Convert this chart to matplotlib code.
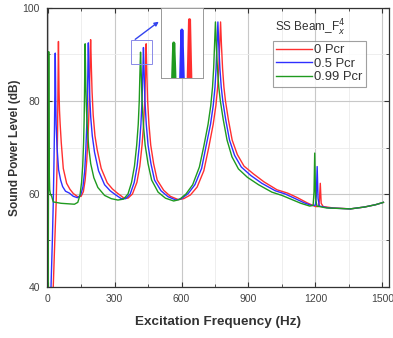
import matplotlib
matplotlib.use("Agg")
import matplotlib.pyplot as plt
from matplotlib.patches import Rectangle, FancyArrowPatch
from matplotlib.ticker import MultipleLocator

plt.rcParams['font.family'] = ['Liberation Sans', 'DejaVu Sans']

labels = ["0 Pcr", "0.5 Pcr", "0.99 Pcr"]
colors = ["#ff2f2f", "#2f2fff", "#1f9a1f"]

f_red = [20, 25, 32, 38, 42, 44.5, 46, 47.2, 48.3, 49.5, 51, 53, 56, 61, 70, 85, 100, 115, 135, 150,
         160, 168, 175, 180, 184, 187, 189.5, 191, 192.5, 194, 196, 199, 204, 212, 222, 240, 267, 290, 312, 340, 360,
         380, 400, 413, 423, 430, 435, 438, 440, 441.5, 443, 445, 448, 454, 462, 475, 491, 520, 550, 585, 610,
         640, 670, 700, 722, 742, 754, 762, 767, 771, 775, 779, 784, 790, 797, 810, 827, 850, 880, 923, 970, 1028,
         1075, 1120, 1163, 1200, 1213, 1218, 1222, 1226, 1235, 1280, 1357, 1420, 1470, 1505]
L_red = [28, 40, 50, 58, 66, 74, 82, 88, 92.8, 88, 82, 78, 75, 71, 65.5, 62.3, 61, 60.1, 59.4, 59.5,
         60.5, 63, 67, 71.5, 76, 81, 87, 91, 93.2, 91, 87, 82, 77, 72.5, 69.5, 65.5, 62.4, 61.1, 60.2, 59.2, 59.1,
         60, 62.5, 66, 70.5, 75, 80, 85, 89, 92.3, 89, 85, 80, 75, 70.5, 66.5, 63, 60.8, 59.5, 58.8, 59,
         59.8, 61.5, 65, 70, 75, 79, 83, 87, 92, 97, 92, 87, 83, 80, 76, 71.6, 68.5, 66, 64.3, 62.6, 60.9,
         60.2, 59.2, 58.1, 57.3, 57.3, 58.5, 62.3, 58, 57.3, 57, 56.8, 57.2, 57.7, 58.2]

f_blue = [10, 15, 21, 25, 28, 30.5, 32, 33, 34, 35, 36.3, 38, 42, 49, 58, 67, 80, 97, 115, 134,
          148, 158, 166, 171, 175, 178, 180, 181, 182.3, 183.6, 185.5, 188.5, 193, 200, 210, 228, 255, 280, 305, 330,
          350, 370, 388, 401, 411, 418, 423, 426, 428, 429.3, 430.8, 433, 436, 442, 450, 463, 479, 508, 540, 575, 600,
          630, 660, 690, 710, 730, 742, 750, 755, 759, 763, 767, 772, 778, 785, 798, 815, 838, 868, 910, 960, 1020,
          1065, 1110, 1150, 1185, 1200, 1204, 1208, 1212, 1218, 1260, 1357, 1420, 1470, 1505]
L_blue = [28, 40, 50, 58, 66, 74, 81, 86, 90.3, 86, 80, 75, 70, 65.2, 63, 61.6, 60.6, 60.2, 59.5, 59.2,
          59.8, 61.5, 65, 69.5, 74.5, 80, 86, 90, 92.5, 90, 86, 81, 76.5, 72.5, 69, 65, 62, 60.7, 59.8, 59,
          59, 60, 62.5, 66, 70.5, 75, 80, 85, 89, 91.5, 89, 85, 80, 75, 70.5, 66.5, 63, 60.7, 59.4, 58.7, 59,
          60.1, 62, 65.5, 70.3, 75, 79, 83, 87, 92, 97, 92, 87, 83, 80, 76, 71.6, 68.3, 65.8, 64, 62.3, 60.7,
          60, 59, 58.1, 57.5, 57.6, 59.5, 65.9, 59, 57.4, 57, 56.8, 57.2, 57.7, 58.2]

f_green = [1, 2.5, 3.5, 4.2, 4.7, 5.4, 6.3, 7.5, 9, 12, 18, 25, 60, 120, 135,
           145, 152, 157, 161, 163.5, 165.3, 166.6, 168, 169.4, 171, 174, 178, 184, 193, 207, 225, 255, 285, 315, 340,
           360, 376, 389, 399, 406, 410.5, 413, 415, 416.3, 417.8, 420, 423, 429, 437, 450, 466, 495, 528, 565, 590,
           620, 650, 680, 700, 719, 731, 739, 744, 748, 752, 756, 761, 767, 774, 787, 804, 826, 855, 895, 945, 1005,
           1050, 1095, 1135, 1175, 1190, 1194, 1197, 1201, 1207, 1250, 1357, 1420, 1470, 1505]
L_green = [30, 40, 62, 80, 90.6, 80, 70, 64, 61, 60, 59.5, 58.3, 58, 57.8, 58.2,
           59.8, 62.5, 66, 71, 76, 82, 88, 92.3, 88, 83, 78, 74, 70, 66.5, 63.5, 61.4, 59.7, 59, 58.7, 58.9,
           60, 62.5, 66, 70.5, 75, 80, 85, 88.5, 90.5, 88.5, 85, 80, 75, 70.5, 66.5, 63, 60.4, 59.1, 58.5, 58.8,
           60, 62, 65.8, 70.3, 75, 79, 83, 87, 92, 97, 92, 87, 83, 80, 76, 71.6, 68, 65.4, 63.6, 62, 60.4,
           59.7, 58.8, 58, 57.4, 57.6, 60.5, 68.8, 59, 57.4, 57, 56.8, 57.2, 57.7, 58.2]

series_f = [f_red, f_blue, f_green]
series_L = [L_red, L_blue, L_green]

fig = plt.figure(figsize=(3.93, 3.38), dpi=100)
ax = fig.add_axes([47 / 393, (338 - 287) / 338, 342 / 393, 279 / 338])

for f, L, c, lab in zip(series_f, series_L, colors, labels):
    ax.plot(f, L, color=c, lw=1.0, label=lab)

ax.set_xlim(-3, 1530)
ax.set_ylim(40, 100)
ax.xaxis.set_major_locator(MultipleLocator(300))
ax.xaxis.set_minor_locator(MultipleLocator(150))
ax.yaxis.set_major_locator(MultipleLocator(20))
ax.yaxis.set_minor_locator(MultipleLocator(10))
ax.grid(which='major', color='#c8c8c8', lw=0.8)
ax.grid(which='minor', color='#ebebeb', lw=0.6)
ax.set_axisbelow(True)
ax.tick_params(which='both', direction='in', top=True, right=True, colors='#333333',
               labelsize=7.5, labelcolor='#444444', pad=5)
ax.tick_params(which='major', length=3.5, width=0.8)
ax.tick_params(which='minor', length=2, width=0.6)
for sp in ax.spines.values():
    sp.set_color('#333333')
    sp.set_linewidth(0.9)

ax.set_xlabel("Excitation Frequency (Hz)", fontsize=9.7, fontweight='bold', color='#333333', labelpad=9)
ax.set_ylabel("Sound Power Level (dB)", fontsize=8.6, fontweight='bold', color='#333333', labelpad=1.5)

leg = ax.legend(loc='upper left', bbox_to_anchor=((273 - 47) / 342, (287 - 41) / 279), fontsize=9.4,
                frameon=True, fancybox=False, handlelength=2.7, handletextpad=0.2, borderpad=0.25,
                labelspacing=0.1, borderaxespad=0)
leg.get_frame().set_edgecolor('#888888')
leg.get_frame().set_linewidth(0.8)
for t in leg.get_texts():
    t.set_color('#333333')

fig.text(310 / 393, (338 - 28) / 338, r"SS Beam_F$_x^{4}$", fontsize=8.5, ha='center', va='center',
         color='#333333')

# zoom rectangle and arrow
ax.add_patch(Rectangle((372, 88.0), 97, 5.1, fill=False, edgecolor='#8a8ae8', lw=0.7, zorder=5))

ins = fig.add_axes([161 / 393, (338 - 78) / 338, 42 / 393, 70 / 338])
for f, L, c in zip(series_f, series_L, colors):
    ins.plot(f, L, color=c, lw=2.2)
ins.set_xlim(396, 463)
ins.set_ylim(87.8, 93.2)
ins.set_xticks([])
ins.set_yticks([])
for sp in ins.spines.values():
    sp.set_color('#999999')
    sp.set_linewidth(0.7)

arr = FancyArrowPatch((133 / 393, (338 - 41) / 338), (161 / 393, (338 - 20) / 338),
                      transform=fig.transFigure, arrowstyle='-|>', mutation_scale=6,
                      color='#3344ee', lw=1.0)
fig.patches.append(arr)

fig.savefig("out.png", dpi=100)
